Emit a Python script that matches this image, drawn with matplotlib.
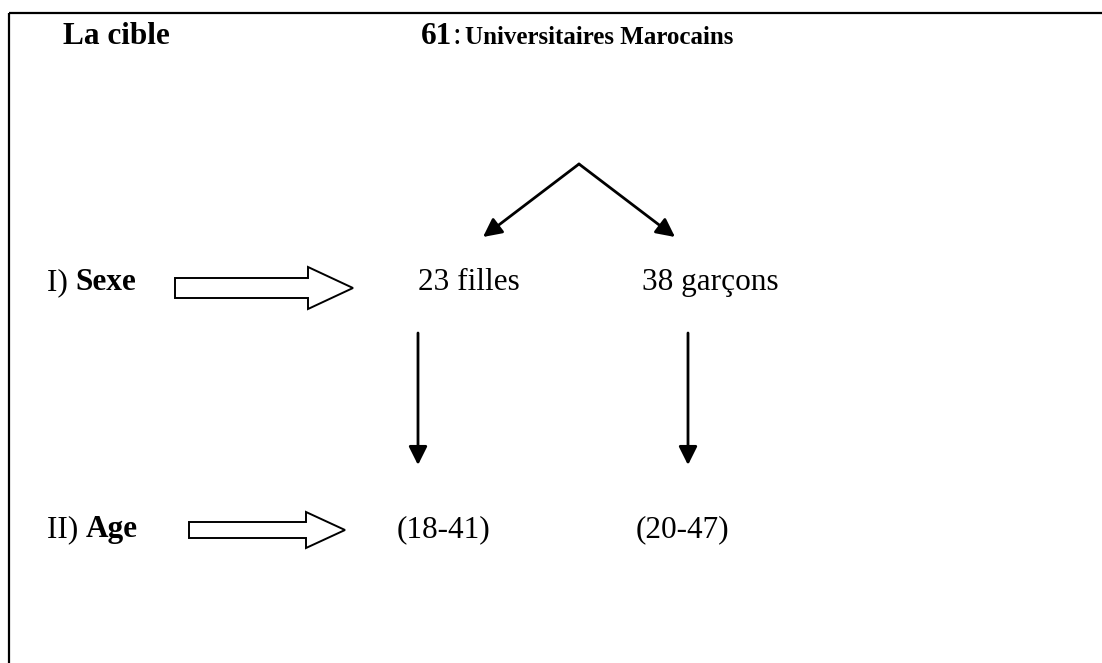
import matplotlib
matplotlib.use("Agg")
import matplotlib.pyplot as plt
from matplotlib.patches import FancyArrow

# texts of the diagram
title_left = "La cible"
title_count = "61"
title_rest = "Universitaires Marocains"
row_labels = [("I) ", "Sexe"), ("II) ", "Age")]
sex_groups = ["23 filles", "38 garçons"]
age_ranges = ["(18-41)", "(20-47)"]

plt.rcParams['font.family'] = ['Liberation Serif', 'DejaVu Serif']

fig = plt.figure(figsize=(11.02, 6.63), dpi=100)
ax = fig.add_axes([0, 0, 1, 1])
ax.set_xlim(0, 1102)
ax.set_ylim(663, 0)
ax.axis('off')

# frame (top and left only)
ax.plot([9, 1102], [13, 13], color='black', lw=1.6, solid_capstyle='butt')
ax.plot([9, 9], [13, 663], color='black', lw=1.6, solid_capstyle='butt')

fs = 22.5


def right_edge(t):
    fig.canvas.draw()
    return ax.transData.inverted().transform(t.get_window_extent())[1][0]


# header
ax.text(63, 44, title_left, fontsize=fs, fontweight='bold', va='baseline')
t = ax.text(421, 44, title_count, fontsize=fs, fontweight='bold', va='baseline')
t = ax.text(right_edge(t), 44, ":", fontsize=fs, va='baseline')
ax.text(right_edge(t) + 4, 44, title_rest, fontsize=18, fontweight='bold', va='baseline')

# row labels
rows_y = [290, 537]
for (num, word), y in zip(row_labels, rows_y):
    t = ax.text(47, y, num, fontsize=fs, va='baseline')
    ax.text(right_edge(t), y, word, fontsize=fs, fontweight='bold', va='baseline')

# hollow arrows
ax.add_patch(FancyArrow(175, 288, 178, 0, width=20, head_width=42, head_length=45,
                        length_includes_head=True, facecolor='white', edgecolor='black', lw=1.4))
ax.add_patch(FancyArrow(189, 530, 156, 0, width=16, head_width=36, head_length=39,
                        length_includes_head=True, facecolor='white', edgecolor='black', lw=1.4))

# group labels
group_x = [418, 642]
for x, s in zip(group_x, sex_groups):
    ax.text(x, rows_y[0], s, fontsize=fs, va='baseline')
age_x = [397, 636]
for x, s in zip(age_x, age_ranges):
    ax.text(x, rows_y[1], s, fontsize=fs, va='baseline')

# split arrows
arrow_kw = dict(arrowstyle='-|>', color='black', lw=2, mutation_scale=28,
                shrinkA=0, shrinkB=0)
apex = (579, 164)
ax.annotate("", xy=(483, 237), xytext=apex, arrowprops=arrow_kw)
ax.annotate("", xy=(675, 237), xytext=apex, arrowprops=arrow_kw)

# downward arrows
for x in [418, 688]:
    ax.annotate("", xy=(x, 465), xytext=(x, 333), arrowprops=arrow_kw)

fig.savefig("out.png", dpi=100)
